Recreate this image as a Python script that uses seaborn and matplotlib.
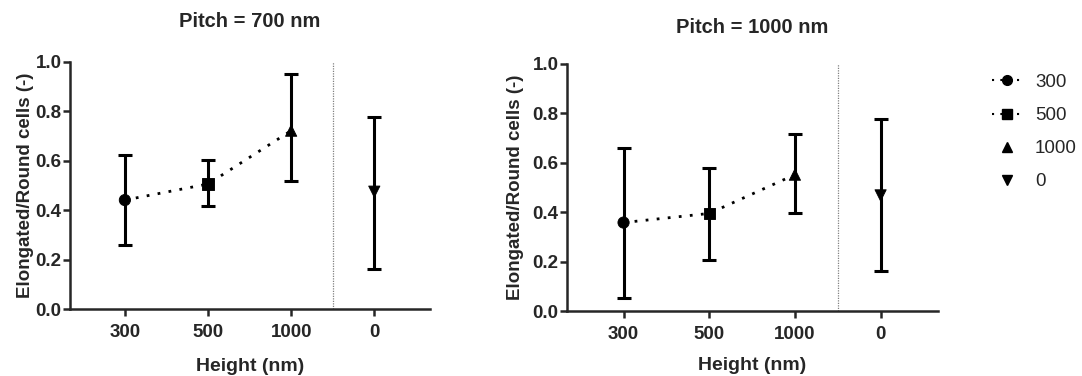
import numpy as np
import pandas as pd
import seaborn as sns
import matplotlib.pyplot as plt
from matplotlib.lines import Line2D

# data
heights = ["300", "500", "1000", "0"]
markers = ["o", "s", "^", "v"]

mean_700 = [0.441, 0.506, 0.722, 0.475]
low_700 = [0.260, 0.415, 0.517, 0.163]
high_700 = [0.623, 0.603, 0.953, 0.776]

mean_1000 = [0.358, 0.395, 0.552, 0.468]
low_1000 = [0.054, 0.208, 0.395, 0.160]
high_1000 = [0.661, 0.580, 0.716, 0.776]

pitches = ["Pitch = 700 nm", "Pitch = 1000 nm"]

sns.set_style("ticks")
plt.rcParams['font.family'] = ['Liberation Sans', 'DejaVu Sans']

fig = plt.figure(figsize=(10.82, 3.76), dpi=100)
ax1 = fig.add_axes([70/1082, 1-309/376, 360/1082, 247/376])
ax2 = fig.add_axes([567/1082, 1-311/376, 371/1082, 247/376])

panels = [(ax1, mean_700, low_700, high_700, 25, 12, -0.1),
          (ax2, mean_1000, low_1000, high_1000, 22, 10, -0.115)]

for i, (ax, m, lo, hi, tpad, xpad, ylx) in enumerate(panels):
    df = pd.DataFrame({"pos": np.arange(len(heights)), "height": heights,
                       "mean": m, "low": lo, "high": hi})

    # dotted connecting line (only the three structured heights)
    sns.lineplot(data=df.iloc[:3], x="pos", y="mean", ax=ax, color="black",
                 lw=2, linestyle=(0, (1, 3)), legend=False)

    # error bars
    ax.errorbar(df["pos"], df["mean"],
                yerr=[df["mean"] - df["low"], df["high"] - df["mean"]],
                fmt="none", ecolor="black", elinewidth=2.2, capsize=5,
                capthick=2.2, zorder=3)

    # markers
    sns.scatterplot(data=df, x="pos", y="mean", style="height",
                    markers=dict(zip(heights, markers)), color="black",
                    s=65, edgecolor="black", ax=ax, legend=False, zorder=4)

    ax.axvline(2.5, color="grey", lw=0.9, linestyle=(0, (1, 1)))

    ax.set_xlim(-0.66, 3.67)
    ax.set_ylim(0, 1.0)
    ax.set_xticks(df["pos"])
    ax.set_xticklabels(heights)
    ax.set_yticks([0, 0.2, 0.4, 0.6, 0.8, 1.0])
    ax.set_yticklabels(["0.0", "0.2", "0.4", "0.6", "0.8", "1.0"])
    for lab in ax.get_xticklabels() + ax.get_yticklabels():
        lab.set_fontweight("bold")
        lab.set_fontsize(13.5)
    ax.tick_params(width=1.8, length=5)
    ax.tick_params(axis="x", pad=6)
    ax.tick_params(axis="y", pad=1)

    ax.set_xlabel("Height (nm)", fontsize=14, fontweight="bold", labelpad=xpad)
    ax.set_ylabel("Elongated/Round cells (-)", fontsize=13.5, fontweight="bold")
    ax.yaxis.set_label_coords(ylx, 0.5)
    ax.set_title(pitches[i], fontsize=14.5, fontweight="bold", pad=tpad)

    sns.despine(ax=ax)
    for sp in ["left", "bottom"]:
        ax.spines[sp].set_linewidth(1.8)

# legend
handles = []
for h, mk in zip(heights, markers):
    ls = (0, (1, 3)) if h in ["300", "500"] else "none"
    handles.append(Line2D([], [], color="black", marker=mk, markersize=7,
                          linestyle=ls, lw=1.5))
fig.legend(handles, heights, loc="upper left", bbox_to_anchor=(975/1082, 1-57/376),
           frameon=False, fontsize=13.5, handlelength=1.6, labelspacing=0.85,
           handletextpad=0.7)

fig.savefig("out.png", dpi=100)
